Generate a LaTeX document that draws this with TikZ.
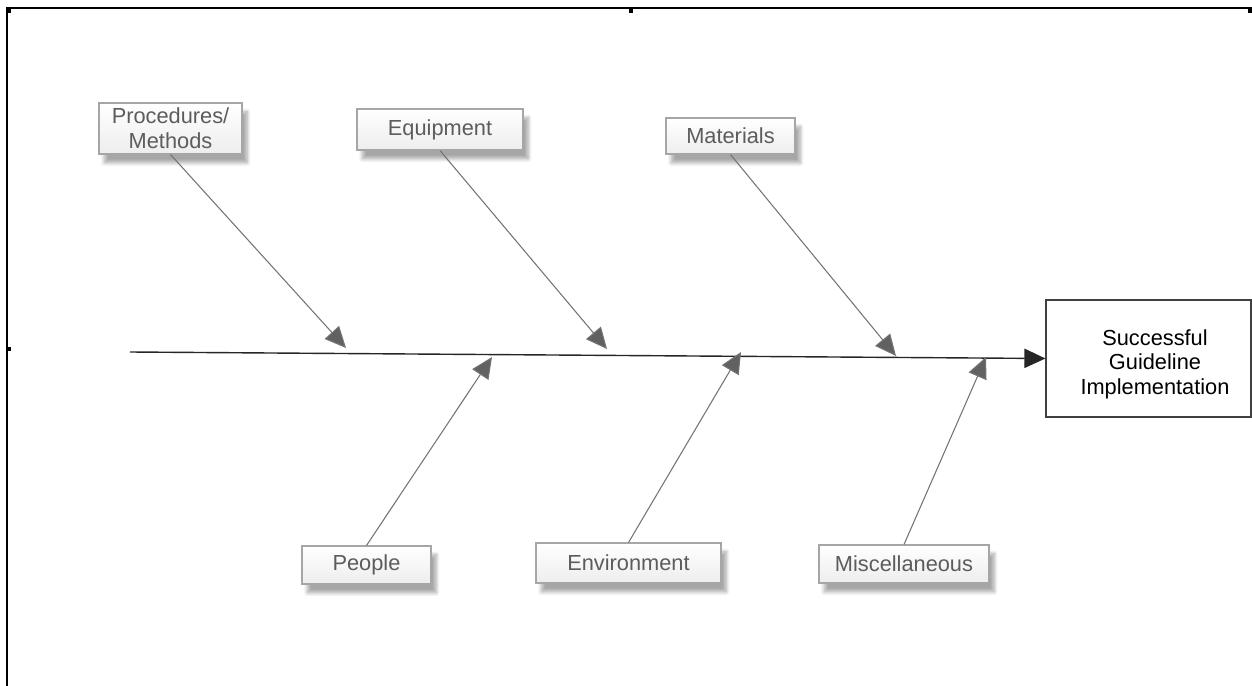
\documentclass[tikz,border=0pt]{standalone}
\usepackage{fontspec}
\setmainfont{Liberation Sans}
\usetikzlibrary{arrows.meta,shadows.blur}
\begin{document}
\begin{tikzpicture}[x=0.02cm,y=0.02cm]
\tikzstyle{every node}+=[inner sep=0pt]
\tikzstyle{cause}=[draw=black!35, line width=0.6pt, top color=white, bottom color=black!7, text=black!64, font=\fontsize{12.4}{14}\selectfont, align=center, blur shadow={shadow xshift=3pt, shadow yshift=-5pt, shadow blur steps=8, shadow opacity=35}]
\tikzstyle{rib}=[draw=black!55, line width=0.6pt, -{Triangle[length=12pt,width=11pt,fill=black!62]}]
\tikzstyle{tick}=[fill=black]
\useasboundingbox (0,0) rectangle (1252,-686);
\draw [black, line width=0.9pt] (7,-686) -- (7,-8) -- (1252,-8);
\fill [tick] (7,-9) rectangle (11,-13);
\fill [tick] (629,-9) rectangle (633,-13);
\fill [tick] (1248,-9) rectangle (1252,-13);
\fill [tick] (7,-347) rectangle (11,-351);
\fill [tick] (1248,-347) rectangle (1252,-351);
\node [cause, minimum width=2.86cm, minimum height=1.02cm] (proc) at (170.5,-128.5) {Procedures/\\Methods};
\node [cause, minimum width=3.32cm, minimum height=0.82cm] (equip) at (440,-129.5) {Equipment};
\node [cause, minimum width=2.58cm, minimum height=0.72cm] (mat) at (730.5,-136) {Materials};
\node [cause, minimum width=2.58cm, minimum height=0.76cm] (people) at (366.5,-565) {People};
\node [cause, minimum width=3.7cm, minimum height=0.8cm] (env) at (628.5,-563) {Environment};
\node [cause, minimum width=3.4cm, minimum height=0.76cm] (misc) at (904,-564) {Miscellaneous};
\node [draw=black!75, line width=0.7pt, fill=white, minimum width=4.1cm, minimum height=2.34cm] (goal) at (1148.5,-358.5) {};
\node [align=center, font=\fontsize{12.4}{14}\selectfont] (goaltext) at (1155,-364) {Successful\\Guideline\\Implementation};
\coordinate (tail) at (130,-352);
\coordinate (t1) at (346,-348);
\coordinate (t2) at (607,-349);
\coordinate (t3) at (896,-356);
\coordinate (t4) at (492,-357);
\coordinate (t5) at (741,-352);
\coordinate (t6) at (986,-357);
\draw [black!85, line width=0.8pt, -{Triangle[length=12pt,width=11pt]}] (tail) -- (goal.west);
\draw [rib] (proc.south) -- (t1);
\draw [rib] (equip.south) -- (t2);
\draw [rib] (mat.south) -- (t3);
\draw [rib] (people.north) -- (t4);
\draw [rib] (env.north) -- (t5);
\draw [rib] (misc.north) -- (t6);
\end{tikzpicture}
\end{document}
